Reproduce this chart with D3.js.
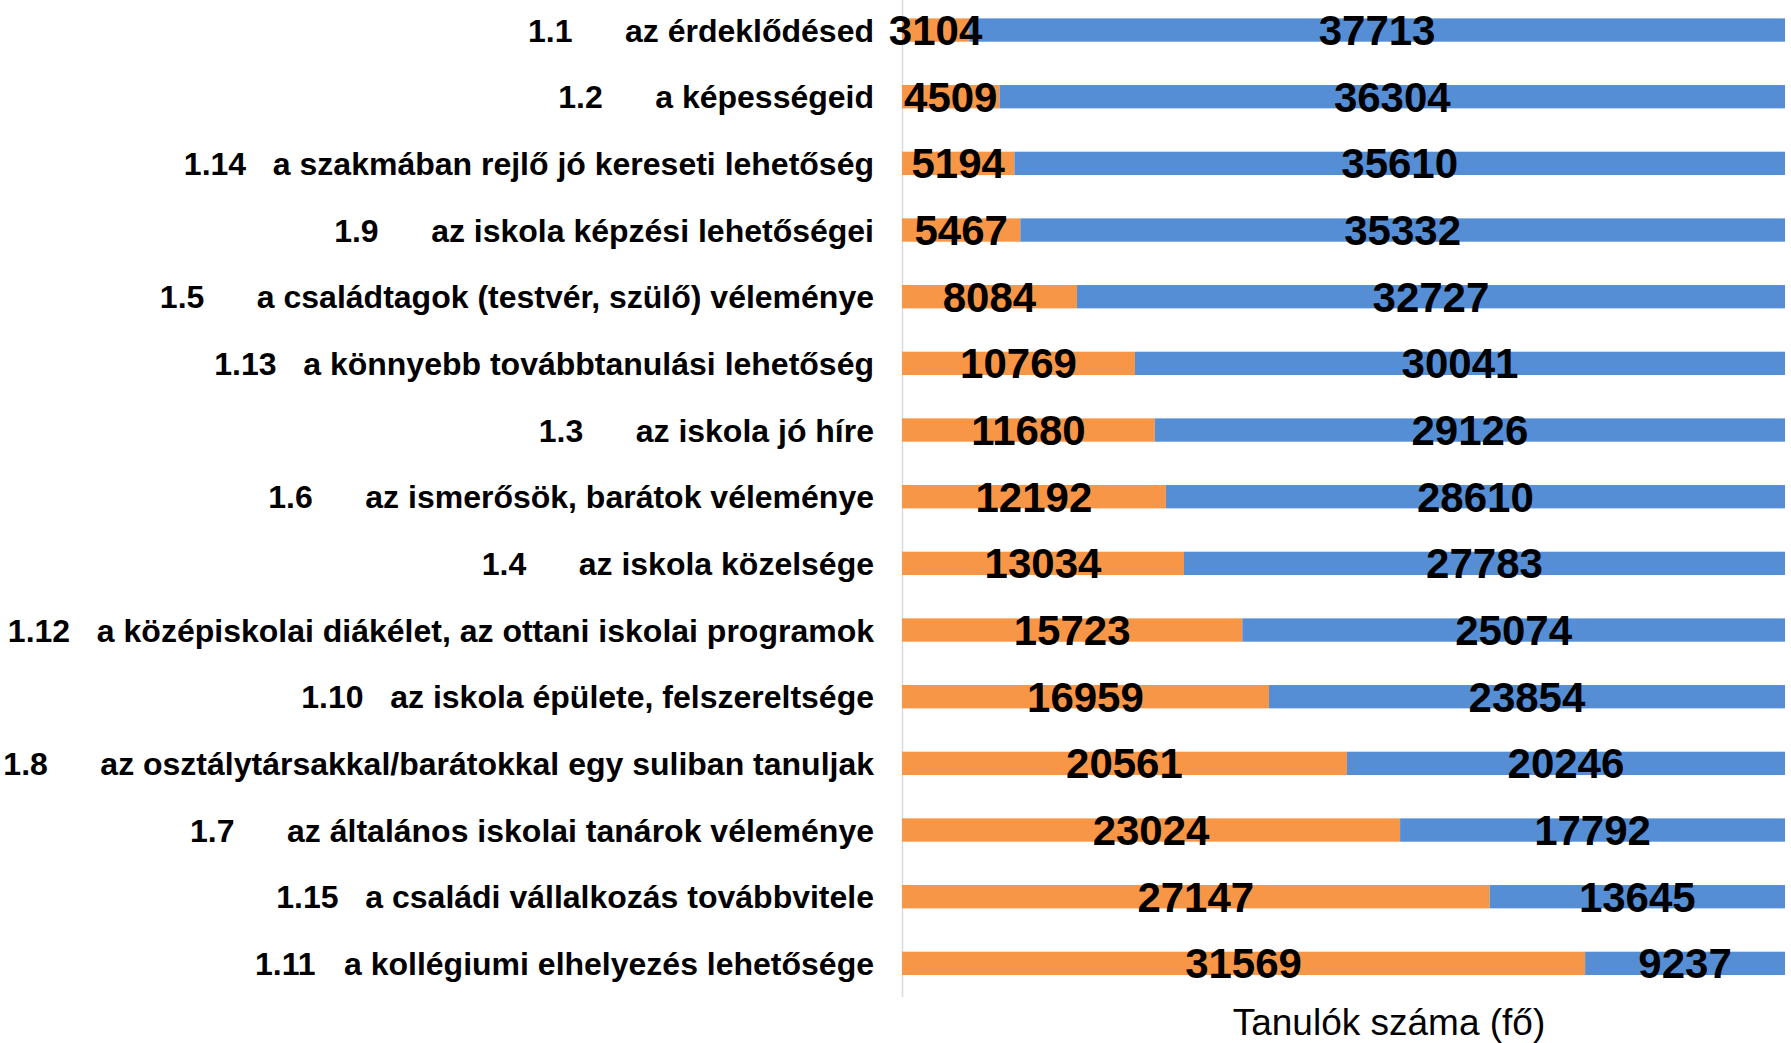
<!DOCTYPE html>
<html>
<head>
<meta charset="utf-8">
<script src="https://cdn.jsdelivr.net/npm/d3@7"></script>
<style>
  html, body { margin: 0; padding: 0; background: #fff; }
  svg { display: block; }
  text { font-family: "Liberation Sans", Arial, sans-serif; }
</style>
</head>
<body>
<svg id="chart" width="1791" height="1043"></svg>
<script>
const codes = ["1.1","1.2","1.14","1.9","1.5","1.13","1.3","1.6","1.4","1.12","1.10","1.8","1.7","1.15","1.11"];
const names = [
  "az érdeklődésed",
  "a képességeid",
  "a szakmában rejlő jó kereseti lehetőség",
  "az iskola képzési lehetőségei",
  "a családtagok (testvér, szülő) véleménye",
  "a könnyebb továbbtanulási lehetőség",
  "az iskola jó híre",
  "az ismerősök, barátok véleménye",
  "az iskola közelsége",
  "a középiskolai diákélet, az ottani iskolai programok",
  "az iskola épülete, felszereltsége",
  "az osztálytársakkal/barátokkal egy suliban tanuljak",
  "az általános iskolai tanárok véleménye",
  "a családi vállalkozás továbbvitele",
  "a kollégiumi elhelyezés lehetősége"
];
const orangeValues = [3104,4509,5194,5467,8084,10769,11680,12192,13034,15723,16959,20561,23024,27147,31569];
const blueValues = [37713,36304,35610,35332,32727,30041,29126,28610,27783,25074,23854,20246,17792,13645,9237];
const seriesKeys = ["orange","blue"];
const seriesColors = ["#F79646","#558ED5"];
const axisTitle = "Tanulók száma (fő)";

const rows = codes.map((c, i) => ({ idx: i, code: c, name: names[i], orange: orangeValues[i], blue: blueValues[i] }));

const svg = d3.select("#chart");

const x = d3.scaleLinear().domain([0, 1]).range([902, 1785]);
const y = d3.scaleBand().domain(rows.map(d => d.idx)).range([-3.3, 996.7]).paddingInner(0.65).paddingOuter(0.325);
const color = d3.scaleOrdinal().domain(seriesKeys).range(seriesColors);

const stack = d3.stack().keys(seriesKeys).offset(d3.stackOffsetExpand);
const stacked = stack(rows);

// axis line (category axis)
const axisG = svg.append("g").attr("transform", "translate(902,0)")
  .call(d3.axisLeft(y).tickSize(0).tickSizeOuter(0).tickFormat(""));
axisG.select(".domain").attr("stroke", "#d9d9d9").attr("stroke-width", 1.5);

// bars
const layers = svg.append("g").selectAll("g").data(stacked).join("g")
  .attr("fill", d => color(d.key));
layers.selectAll("rect").data(d => d.map(p => ({ p, key: d.key }))).join("rect")
  .attr("x", d => x(d.p[0]))
  .attr("width", d => x(d.p[1]) - x(d.p[0]))
  .attr("y", d => y(d.p.data.idx))
  .attr("height", y.bandwidth());

// data labels
const labG = svg.append("g");
stacked.forEach(layer => {
  labG.selectAll(null).data(layer).join("text")
    .attr("x", p => (x(p[0]) + x(p[1])) / 2)
    .attr("y", p => y(p.data.idx) + y.bandwidth() / 2)
    .attr("dy", "0.36em")
    .attr("text-anchor", "middle")
    .attr("font-size", 42)
    .attr("font-weight", "bold")
    .attr("fill", "#000")
    .text(p => p.data[layer.key]);
});

// category labels
const catG = svg.append("g");
rows.forEach(d => {
  const cy = y(d.idx) + y.bandwidth() / 2;
  const t = catG.append("text")
    .attr("x", 874).attr("y", cy).attr("dy", "0.36em")
    .attr("text-anchor", "end")
    .attr("font-size", 32).attr("font-weight", "bold").attr("fill", "#000")
    .text(d.name);
  const w = t.node().getComputedTextLength();
  const start = 874 - w;
  const gap = d.code.length === 3 ? 97 : 89;
  catG.append("text")
    .attr("x", start - gap).attr("y", cy).attr("dy", "0.36em")
    .attr("text-anchor", "start")
    .attr("font-size", 32).attr("font-weight", "bold").attr("fill", "#000")
    .text(d.code);
});

// axis title
svg.append("text")
  .attr("x", 1389).attr("y", 1035)
  .attr("text-anchor", "middle")
  .attr("font-size", 37)
  .attr("fill", "#000")
  .text(axisTitle);
</script>
</body>
</html>
